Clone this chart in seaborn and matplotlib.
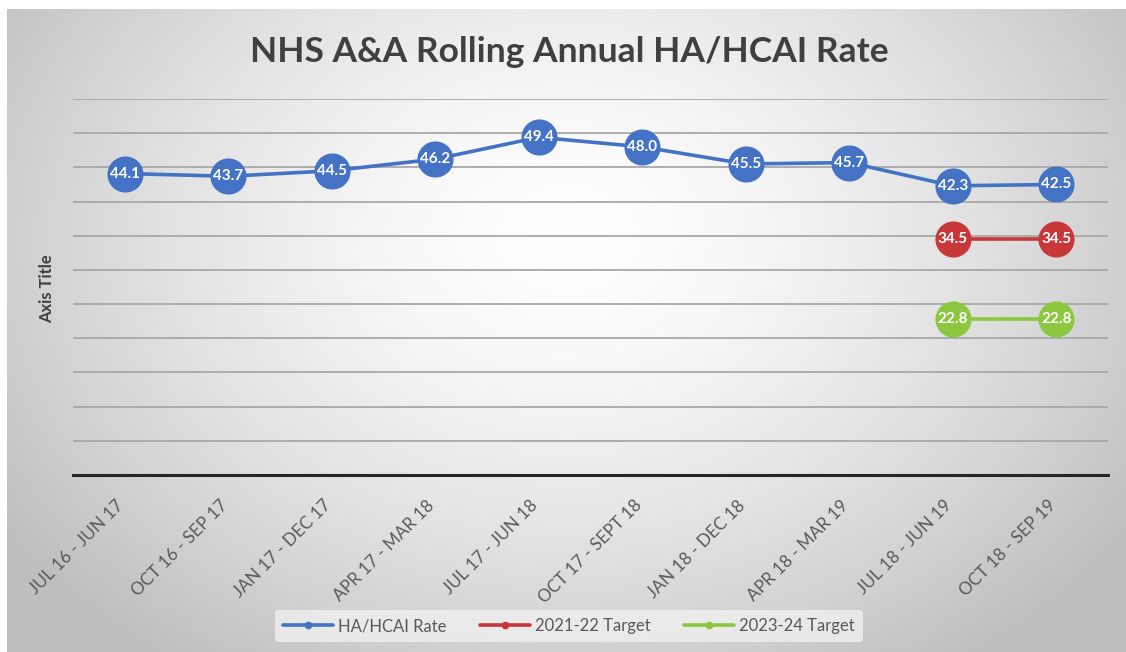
import numpy as np
import pandas as pd
import matplotlib
matplotlib.use("Agg")
import matplotlib.pyplot as plt
import matplotlib.transforms as mtransforms
import seaborn as sns
from matplotlib.lines import Line2D

categories = ["JUL 16 - JUN 17", "OCT 16 - SEP 17", "JAN 17 - DEC 17", "APR 17 - MAR 18",
              "JUL 17 - JUN 18", "OCT 17 - SEPT 18", "JAN 18 - DEC 18", "APR 18 - MAR 19",
              "JUL 18 - JUN 19", "OCT 18 - SEP 19"]
rate = [44.1, 43.7, 44.5, 46.2, 49.4, 48.0, 45.5, 45.7, 42.3, 42.5]
target_2122 = [np.nan] * 8 + [34.5, 34.5]
target_2324 = [np.nan] * 8 + [22.8, 22.8]
series_names = ["HA/HCAI Rate", "2021-22 Target", "2023-24 Target"]
colors = ["#4472C4", "#C8373A", "#8DC63F"]

sns.set_theme(style="white")
plt.rcParams['font.family'] = ['Lato', 'DejaVu Sans']

rows = []
for name, vals in zip(series_names, [rate, target_2122, target_2324]):
    for i, v in enumerate(vals):
        if not np.isnan(v):
            rows.append({"pos": i, "value": v, "series": name})
df = pd.DataFrame(rows)

W, H = 1126, 652
fig = plt.figure(figsize=(W / 100, H / 100), dpi=100, facecolor="white")

# background gradient
bg = fig.add_axes([7 / W, 0, 1 - 7 / W, 1 - 9 / H], zorder=0)
yy, xx = np.mgrid[0:643, 0:1119]
d = np.sqrt(((xx - 560) / 620.0) ** 2 + ((yy - 230) / 470.0) ** 2)
v = 1.0 - 0.22 * np.clip(d, 0, 1.1) ** 1.5
img = np.dstack([v, v, v])
bg.imshow(np.clip(img, 0, 1), aspect="auto", interpolation="bilinear")
bg.axis("off")

ax = fig.add_axes([73 / W, 1 - 475 / H, (1108 - 73) / W, (475 - 99) / H], zorder=1)
ax.patch.set_alpha(0)

sns.lineplot(data=df, x="pos", y="value", hue="series", hue_order=series_names,
             palette=colors, marker="o", markersize=25, linewidth=2.6,
             markeredgewidth=1.0, legend=False, ax=ax, zorder=3)
for line, c in zip(ax.lines, colors):
    line.set_markeredgecolor(c)

for name, vals in zip(series_names, [rate, target_2122, target_2324]):
    for i, v in enumerate(vals):
        if not np.isnan(v):
            ax.text(i, v, f"{v:.1f}", ha="center", va="center", color="white",
                    fontsize=11, fontweight="bold", zorder=5)

ax.set_xlim(-0.5, len(categories) - 0.5)
ax.set_ylim(0, 55)
ax.set_yticks(np.arange(0, 56, 5))
ax.set_yticklabels([])
ax.yaxis.grid(True, color="#a8a8a8", linewidth=1.3)
ax.set_axisbelow(True)
ax.set_xticks(range(len(categories)))
ax.set_xticklabels(categories, rotation=45, ha="right", rotation_mode="anchor",
                   fontsize=12.3, color="#595959")
ax.tick_params(axis="x", length=0, pad=16)
ax.tick_params(axis="y", length=0)
offset = mtransforms.ScaledTranslation(-9 / 100, 0, fig.dpi_scale_trans)
for lab in ax.get_xticklabels():
    lab.set_transform(lab.get_transform() + offset)
for s in ["top", "right", "left"]:
    ax.spines[s].set_visible(False)
ax.spines["bottom"].set_color("#262626")
ax.spines["bottom"].set_linewidth(2.2)
ax.set_xlabel("")
ax.set_ylabel("")

fig.text(47 / W, 1 - 289 / H, "Axis Title", rotation=90, ha="center", va="center",
         fontsize=12, fontweight="bold", color="#404040")
fig.text(569 / W, 1 - 52 / H, "NHS A&A Rolling Annual HA/HCAI Rate", ha="center",
         va="center", fontsize=25.5, fontweight="bold", color="#404040")

handles = [Line2D([0], [0], color=c, lw=2.6, marker="o", markersize=4.5) for c in colors]
leg = fig.legend(handles, series_names, loc="center", bbox_to_anchor=(569 / W, 1 - 626 / H),
                 ncol=3, frameon=True, fontsize=12, handlelength=3.0, columnspacing=2.0,
                 handletextpad=0.3, labelcolor="#595959", borderpad=0.5)
leg.get_frame().set_facecolor("#f0f0f0")
leg.get_frame().set_edgecolor("none")
leg.get_frame().set_alpha(0.8)

fig.savefig("out.png", dpi=100, facecolor="white")
